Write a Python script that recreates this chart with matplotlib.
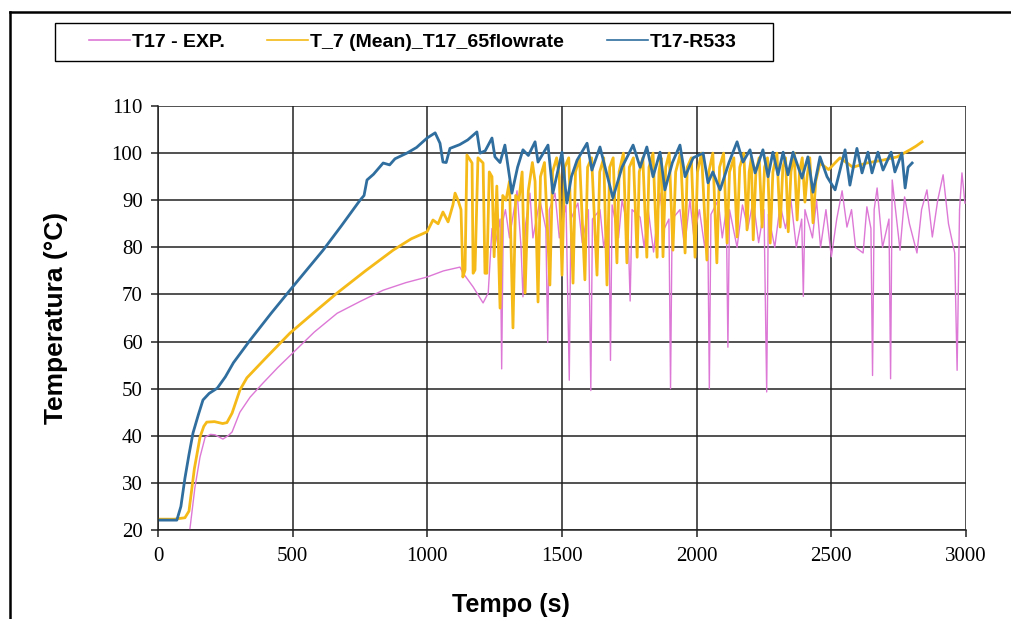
import numpy as np
import matplotlib
matplotlib.use("Agg")
import matplotlib.pyplot as plt
from matplotlib.lines import Line2D
from matplotlib.patches import Rectangle

# (tempo s, temperatura C)
exp_pts = [
    (118, 20.0), (137, 29.0), (156, 35.5), (175, 39.7), (195, 40.3), (212, 40.2),
    (241, 39.3), (260, 40.0), (275, 40.8), (304, 45.0), (342, 48.2), (390, 51.2),
    (445, 54.5), (501, 57.6), (580, 62.0), (665, 66.0), (750, 68.5), (836, 70.9),
    (920, 72.5), (999, 73.7), (1060, 75.0), (1121, 75.8), (1133, 74.5), (1170, 71.6),
    (1207, 68.2), (1226, 70.3), (1240, 84.0), (1250, 80.0), (1270, 86.0), (1276, 54.2),
    (1282, 86.0), (1290, 88.0), (1305, 82.0), (1333, 92.0), (1348, 80.0), (1355, 69.5),
    (1365, 85.0), (1381, 91.5), (1392, 82.0), (1418, 90.0), (1440, 84.0), (1447, 59.8),
    (1453, 88.0), (1474, 91.5), (1490, 82.0), (1515, 89.0), (1527, 51.8), (1533, 86.0),
    (1559, 89.4), (1575, 81.0), (1598, 88.0), (1607, 49.6), (1613, 86.0), (1641, 88.0),
    (1655, 80.0), (1674, 86.0), (1680, 56.0), (1686, 89.0), (1710, 82.0), (1723, 90.0),
    (1745, 84.0), (1753, 68.6), (1760, 88.0), (1790, 86.4), (1805, 80.0), (1820, 88.0),
    (1840, 79.0), (1864, 91.5), (1880, 84.0), (1897, 86.0), (1903, 50.0), (1909, 86.0),
    (1938, 88.0), (1955, 80.0), (1975, 90.0), (1990, 82.0), (2010, 88.0), (2030, 80.0),
    (2041, 86.0), (2047, 50.0), (2053, 87.0), (2080, 90.0), (2095, 82.0), (2110, 88.0),
    (2116, 58.8), (2122, 88.0), (2150, 80.0), (2170, 89.0), (2190, 84.0), (2210, 90.0),
    (2230, 81.0), (2250, 88.0), (2260, 49.3), (2266, 87.0), (2290, 80.0), (2310, 89.0),
    (2330, 84.0), (2350, 90.0), (2370, 80.0), (2390, 86.0), (2396, 69.6), (2402, 88.0),
    (2430, 82.0), (2445, 90.0), (2460, 80.0), (2480, 88.0), (2500, 78.0), (2520, 86.0),
    (2540, 92.0), (2558, 84.3), (2575, 88.0), (2590, 80.0), (2618, 78.8), (2632, 88.6),
    (2647, 84.0), (2653, 52.8), (2659, 88.0), (2670, 92.6), (2690, 80.0), (2714, 86.0),
    (2720, 52.1), (2726, 94.3), (2755, 79.4), (2772, 90.7), (2790, 85.0), (2818, 78.8),
    (2835, 88.0), (2855, 92.2), (2875, 82.2), (2895, 90.0), (2915, 95.4), (2935, 85.0),
    (2958, 78.8), (2967, 53.9), (2976, 88.0), (2985, 95.8), (2996, 89.4),
]

sim_pts = [
    (0, 22.3), (60, 22.3), (100, 22.6), (115, 24.0), (135, 33.0), (156, 39.7),
    (170, 42.0), (181, 42.9), (210, 43.0), (240, 42.6), (256, 42.8), (275, 44.8),
    (304, 49.7), (330, 52.3), (400, 56.5), (490, 61.8), (580, 66.2), (665, 70.3),
    (770, 75.0), (873, 79.4), (940, 81.8), (999, 83.3), (1021, 85.8), (1040, 85.0),
    (1058, 87.5), (1077, 85.4), (1095, 89.0), (1103, 91.5), (1114, 90.0), (1125, 88.0),
    (1132, 73.7), (1140, 75.2), (1147, 99.6), (1166, 97.9), (1170, 74.5), (1177, 75.2),
    (1188, 99.0), (1207, 97.9), (1214, 74.5), (1221, 74.5), (1230, 96.0), (1240, 95.0),
    (1248, 78.0), (1258, 93.0), (1270, 67.1), (1280, 91.0), (1292, 90.0), (1305, 94.0),
    (1318, 62.9), (1328, 91.0), (1340, 90.0), (1352, 96.0), (1363, 70.3), (1375, 92.0),
    (1390, 98.0), (1400, 94.0), (1411, 68.4), (1420, 95.0), (1435, 98.0), (1455, 72.0),
    (1465, 96.0), (1480, 99.0), (1490, 95.0), (1500, 74.1), (1510, 97.0), (1525, 99.0),
    (1541, 72.4), (1550, 96.0), (1565, 99.0), (1585, 73.1), (1595, 97.0), (1610, 99.0),
    (1630, 74.1), (1640, 96.0), (1655, 99.0), (1667, 72.0), (1677, 97.0), (1690, 99.0),
    (1704, 76.7), (1712, 96.0), (1728, 100.0), (1741, 76.7), (1750, 97.0), (1765, 99.0),
    (1779, 77.9), (1787, 96.0), (1800, 99.0), (1815, 77.9), (1823, 97.0), (1838, 100.0),
    (1853, 77.9), (1860, 96.0), (1868, 99.0), (1875, 78.0), (1885, 97.0), (1898, 100.0),
    (1912, 79.4), (1922, 96.0), (1940, 100.0), (1957, 78.8), (1965, 97.0), (1980, 99.0),
    (1994, 77.9), (2003, 96.0), (2018, 100.0), (2038, 77.3), (2045, 96.0), (2060, 100.0),
    (2075, 76.7), (2085, 97.0), (2100, 100.0), (2113, 80.9), (2122, 96.0), (2138, 99.0),
    (2150, 82.2), (2160, 97.0), (2175, 100.0), (2187, 83.7), (2195, 96.0), (2203, 99.0),
    (2210, 81.6), (2220, 96.0), (2232, 99.0), (2243, 84.3), (2252, 97.0), (2263, 99.0),
    (2273, 80.9), (2283, 96.0), (2298, 100.0), (2310, 84.3), (2320, 97.0), (2330, 99.0),
    (2340, 83.3), (2350, 96.0), (2362, 100.0), (2373, 85.8), (2382, 96.0), (2392, 99.0),
    (2402, 89.6), (2410, 95.0), (2420, 99.0), (2432, 85.2), (2442, 94.0), (2458, 97.9),
    (2490, 96.5), (2532, 99.0), (2580, 97.0), (2632, 97.9), (2690, 98.5), (2744, 99.2),
    (2792, 100.7), (2815, 101.5), (2837, 102.4),
]

r533_pts = [
    (0, 22.1), (70, 22.1), (85, 25.0), (100, 31.0), (115, 36.0), (130, 40.6),
    (150, 44.5), (167, 47.6), (190, 49.0), (220, 50.1), (250, 52.5), (280, 55.5),
    (342, 60.3), (420, 66.0), (500, 71.6), (613, 79.4), (680, 84.5), (750, 90.0),
    (765, 91.0), (776, 94.3), (800, 95.5), (836, 97.9), (860, 97.5), (880, 98.8),
    (924, 100.0), (960, 101.2), (999, 103.2), (1029, 104.3), (1047, 102.1), (1058, 98.1),
    (1070, 98.0), (1084, 101.0), (1120, 101.8), (1150, 102.8), (1184, 104.5), (1196, 100.0),
    (1215, 100.5), (1240, 103.2), (1251, 99.2), (1270, 98.0), (1288, 101.7), (1314, 91.5),
    (1335, 97.0), (1355, 100.7), (1375, 99.5), (1400, 102.4), (1411, 98.1), (1448, 101.7),
    (1466, 91.5), (1500, 100.2), (1518, 89.4), (1535, 95.0), (1556, 98.5), (1593, 102.1),
    (1611, 96.4), (1641, 101.3), (1660, 97.0), (1689, 90.5), (1723, 97.0), (1764, 101.7),
    (1790, 97.0), (1815, 101.3), (1838, 95.0), (1864, 100.2), (1882, 92.2), (1910, 98.0),
    (1938, 101.7), (1957, 95.0), (1987, 99.0), (2024, 100.0), (2042, 93.7), (2060, 96.0),
    (2087, 92.2), (2120, 98.0), (2150, 102.4), (2172, 98.1), (2198, 100.7), (2217, 95.8),
    (2246, 100.7), (2265, 95.0), (2283, 100.2), (2302, 95.4), (2321, 100.2), (2339, 95.4),
    (2358, 100.2), (2391, 94.7), (2413, 99.2), (2432, 91.7), (2458, 99.2), (2484, 95.0),
    (2514, 92.2), (2551, 100.7), (2569, 93.2), (2595, 101.0), (2614, 95.8), (2636, 100.2),
    (2651, 95.8), (2673, 100.2), (2692, 96.4), (2722, 100.2), (2736, 96.0), (2762, 100.0),
    (2774, 92.6), (2785, 97.0), (2800, 97.9),
]

series_names = ["T17 - EXP.", "T_7 (Mean)_T17_65flowrate", "T17-R533"]
x_ticks = [0, 500, 1000, 1500, 2000, 2500, 3000]
y_ticks = [20, 30, 40, 50, 60, 70, 80, 90, 100, 110]

W, H = 1011, 619
fig = plt.figure(figsize=(W / 100, H / 100), dpi=100)
ax = fig.add_axes([158 / W, 1 - 530 / H, (966 - 158) / W, (530 - 106) / H])

styles = [("#DD78D6", 1.0), ("#F5BA18", 2.0), ("#2F6E9E", 2.0)]
for pts, name, (col, lw) in zip([exp_pts, sim_pts, r533_pts], series_names, styles):
    a = np.array(pts)
    ax.plot(a[:, 0], a[:, 1], color=col, lw=lw, label=name)

ax.set_xlim(0, 3000)
ax.set_ylim(20, 110)
ax.set_xticks(x_ticks)
ax.set_yticks(y_ticks)
ax.grid(True, color="#222222", lw=1.1)
ax.set_axisbelow(True)
for s in ["top", "right"]:
    ax.spines[s].set_visible(False)
for s in ["left", "bottom"]:
    ax.spines[s].set_color("#222222")
    ax.spines[s].set_linewidth(1.1)
ax.tick_params(direction="out", length=5, width=1.1, color="#222222")
for lab in ax.get_xticklabels() + ax.get_yticklabels():
    lab.set_fontfamily("Liberation Serif")
    lab.set_fontsize(15)
ax.tick_params(axis="x", pad=7)
ax.tick_params(axis="y", pad=6)

fig.text(511 / W, 1 - 605 / H, "Tempo (s)", ha="center", va="center",
         fontsize=18, fontweight="bold", family="Liberation Sans")
fig.text(56 / W, 1 - 318 / H, "Temperatura (\u00b0C)", ha="center", va="center",
         rotation=90, fontsize=19, fontweight="bold", family="Liberation Sans")

# outer frame of the chart
fig.add_artist(Line2D([10 / W, 1.0], [1 - 12 / H, 1 - 12 / H], color="black", lw=1.8))
fig.add_artist(Line2D([10 / W, 10 / W], [0.0, 1 - 12 / H], color="black", lw=1.8))

# legend box
fig.add_artist(Rectangle((55 / W, 1 - 61 / H), (773 - 55) / W, 38 / H, fill=False,
                         edgecolor="black", lw=1.0, transform=fig.transFigure))
handles, labels = ax.get_legend_handles_labels()
handles = [Line2D([], [], color=h.get_color(), lw=1.2) for h in handles]
fig.legend(handles, labels, loc="center left", bbox_to_anchor=(89 / W, 1 - 42 / H),
           ncol=3, frameon=False, handlelength=2.1, handletextpad=0.1,
           columnspacing=2.2, borderpad=0, borderaxespad=0,
           prop={"family": "Liberation Sans", "weight": "bold", "size": 14})

fig.savefig("out.png", dpi=100)
